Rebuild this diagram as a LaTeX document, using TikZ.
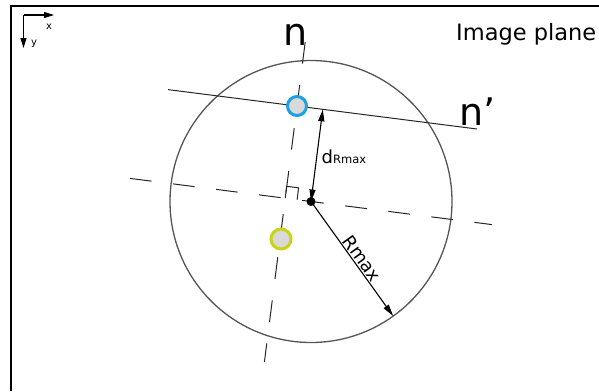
\documentclass[tikz,border=0pt]{standalone}
\usepackage{fontspec}
\setmainfont{DejaVu Sans}
\usetikzlibrary{arrows.meta}
\definecolor{bluering}{RGB}{30,160,225}
\definecolor{yellowring}{RGB}{200,212,20}
\definecolor{ringfill}{RGB}{217,217,217}
\definecolor{circgray}{RGB}{85,85,85}
\tikzset{
  frameline/.style={line width=1.4pt, black},
  axisarrow/.style={line width=1.1pt, -{Triangle[length=10pt,width=6pt]}},
  thinline/.style={line width=1pt, black!85},
  dashline/.style={line width=1pt, black!85, dash pattern=on 21.7pt off 21.7pt},
  bigcircle/.style={line width=1.3pt, circgray},
  dimarrow/.style={line width=1.1pt, black, {Triangle[length=12pt,width=6pt]}-{Triangle[length=12pt,width=6pt]}},
  radarrow/.style={line width=1.1pt, black, -{Triangle[length=12pt,width=6pt]}},
  ring/.style={circle, line width=3pt, fill=ringfill, inner sep=0pt, minimum size=#1},
  lbl/.style={inner sep=0pt, text=black},
}
\begin{document}
\begin{tikzpicture}[x=1pt,y=-1pt]
\useasboundingbox (0,0) rectangle (599,391);
% frame
\draw[frameline] (11,391) -- (11,6) -- (599,6);
% axes
\coordinate (o) at (23.5,15);
\coordinate (xa) at (54,15);
\coordinate (ya) at (23.5,48);
\draw[axisarrow] (o) -- (xa);
\draw[axisarrow] (o) -- (ya);
\node[lbl, font=\fontsize{10}{10}\selectfont] (xl) at (49,27) {x};
\node[lbl, font=\fontsize{10}{10}\selectfont] (yl) at (34,44) {y};
% key points
\coordinate (C) at (311,201.5);
\coordinate (B) at (297,106);
\coordinate (Y) at (281,239);
\coordinate (F) at (322.8,109.3);
\coordinate (R) at (393.2,316.1);
% big circle
\draw[bigcircle] (C) circle[radius=141];
% n' line
\coordinate (np1) at (168,89.6);
\coordinate (np2) at (477,129);
\draw[thinline] (np1) -- (np2);
% dashed line through center
\coordinate (h1) at (130,178.4);
\coordinate (h2) at (492,224.6);
\draw[dashline] (h1) -- (h2);
% n line
\coordinate (n1) at (305.2,42);
\coordinate (n2) at (264.4,362);
\draw[dashline] (n1) -- (n2);
% right angle marker
\coordinate (P) at (285.2,198.2);
\draw[thinline] (297.1,199.7) -- (298.6,187.8) -- (286.7,186.3) -- (P);
% arrows
\draw[dimarrow] (F) -- (C);
\draw[radarrow] (C) -- (R) node[pos=0.54, sloped, above=1pt, lbl, font=\fontsize{18}{18}\selectfont] (rl) {Rmax};
% rings and center dot
\node[ring=19pt, draw=bluering] (blue) at (B) {};
\node[ring=20pt, draw=yellowring] (yellow) at (Y) {};
\node[circle, fill=black, inner sep=0pt, minimum size=9pt] (cdot) at (C) {};
% labels
\node[lbl, anchor=base, font=\fontsize{38}{38}\selectfont] (nl) at (296,45) {n};
\node[lbl, anchor=base west, font=\fontsize{38}{38}\selectfont] (npl) at (459.5,125) {n’};
\node[lbl, anchor=base west, font=\fontsize{22.5}{22.5}\selectfont] (ip) at (456,40) {Image plane};
\node[lbl, anchor=base west] (dl) at (321.5,163.5) {{\fontsize{18}{18}\selectfont d}{\fontsize{11.5}{11.5}\selectfont Rmax}};
\end{tikzpicture}
\end{document}
